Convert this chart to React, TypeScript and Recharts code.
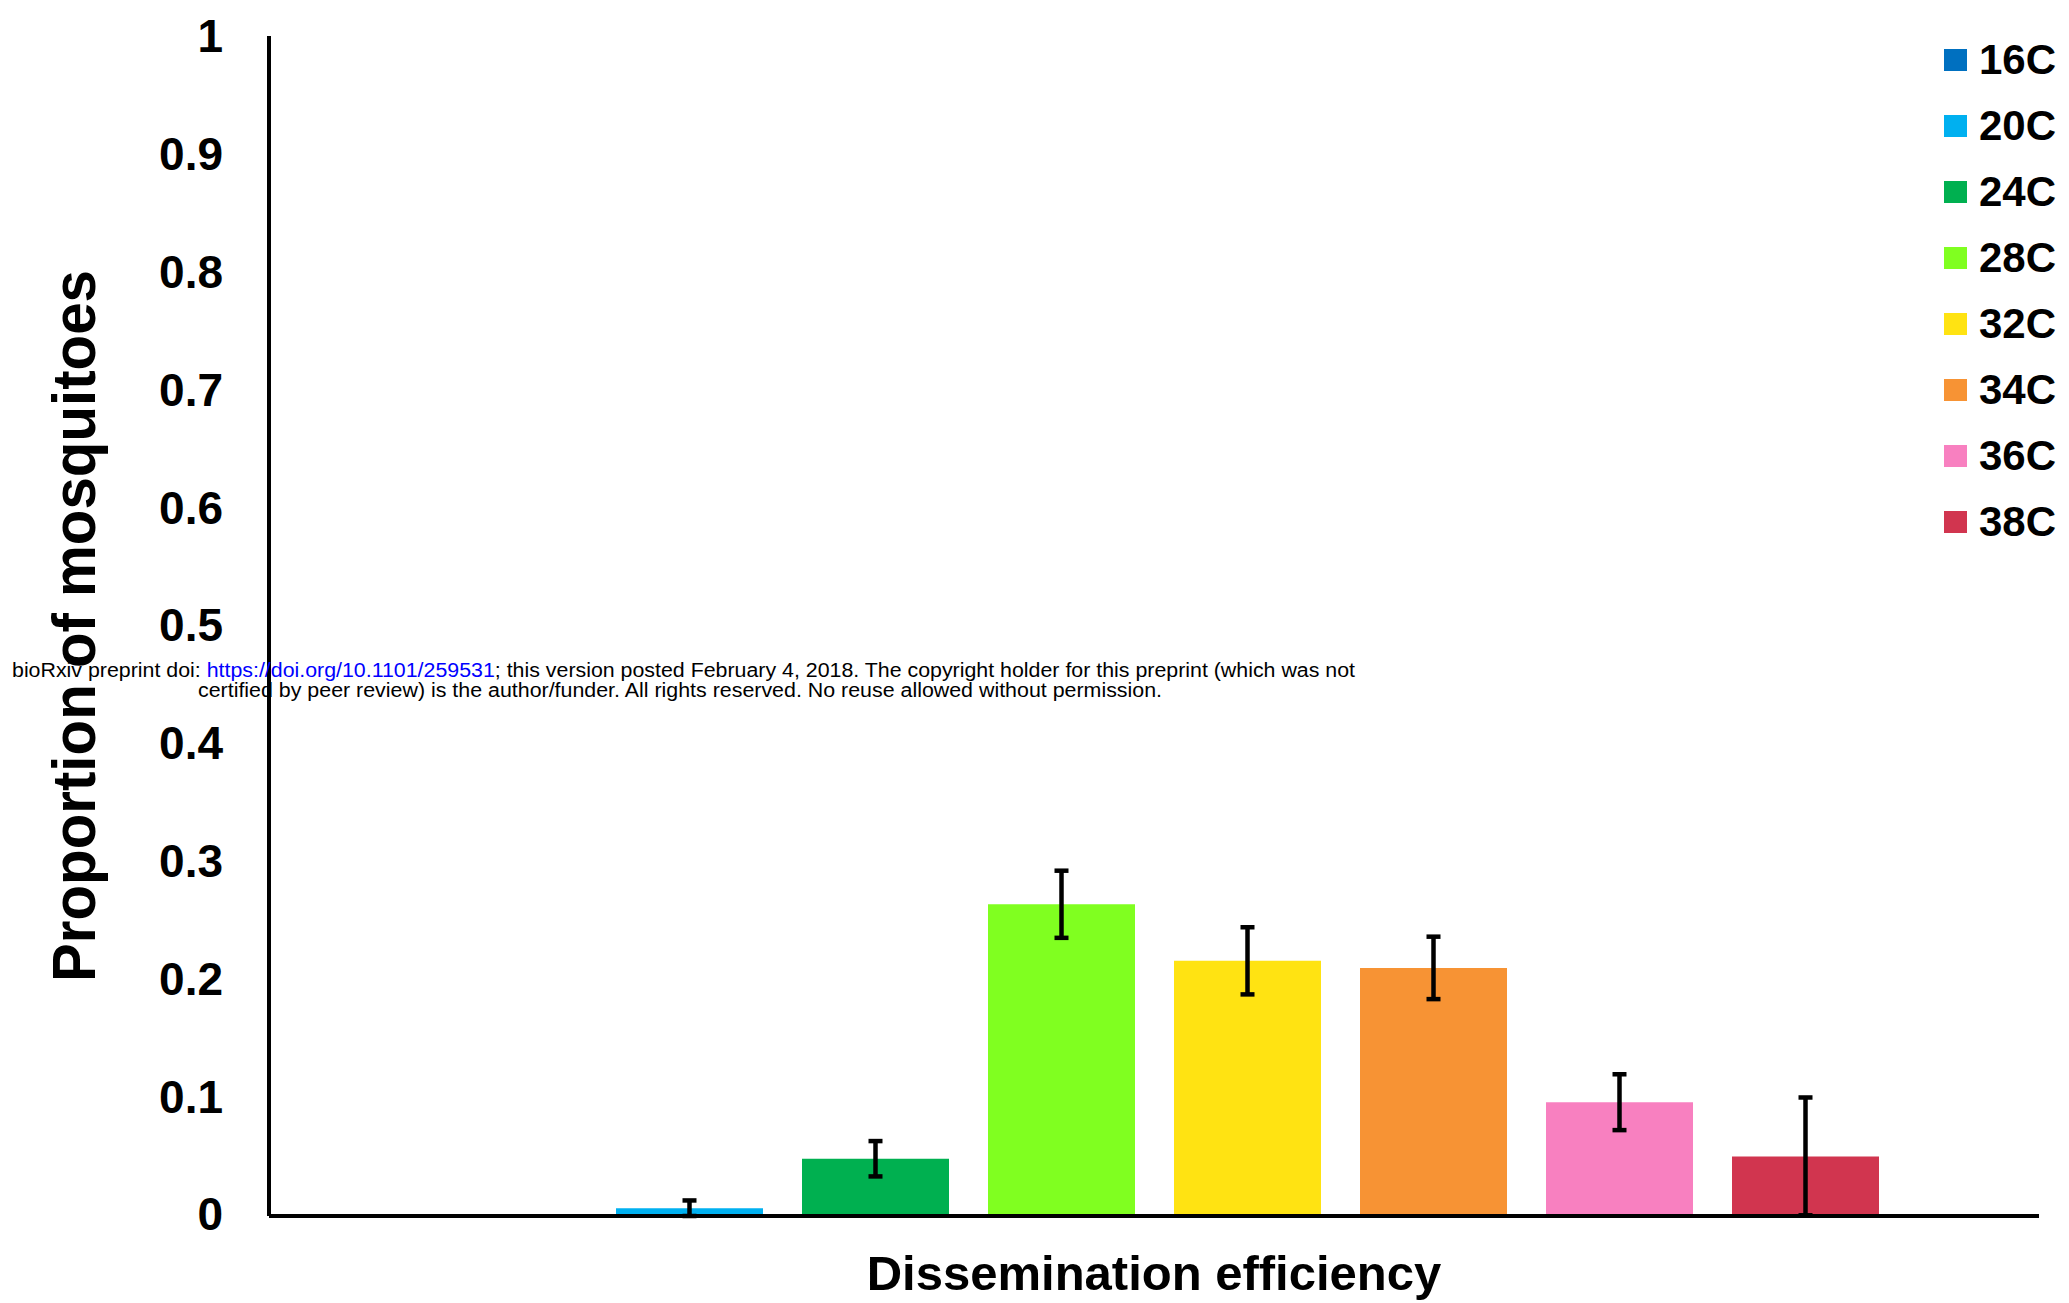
import React from 'react';
import { BarChart, Bar, XAxis, YAxis, ErrorBar, Legend } from 'recharts';

const FONT = '"Liberation Sans", Arial, Helvetica, sans-serif';

const temps = ['16C', '20C', '24C', '28C', '32C', '34C', '36C', '38C'];
const means = [0, 0.005, 0.047, 0.263, 0.215, 0.209, 0.095, 0.049];
const errors = [0, 0.0066, 0.015, 0.0285, 0.0285, 0.0265, 0.0237, 0.05];
const colors = ['#0070c0', '#00b0f0', '#00b050', '#80ff20', '#ffe312', '#f79334', '#f880c0', '#d1354f'];
const yTicks = [0, 0.1, 0.2, 0.3, 0.4, 0.5, 0.6, 0.7, 0.8, 0.9, 1];
const category = 'Dissemination efficiency';

// one category, one bar per temperature
const row: Record<string, string | number> = { name: category };
temps.forEach((t, i) => {
  row[`m${t}`] = means[i];
  row[`e${t}`] = errors[i];
});
const data = [row];

function LegendBox(props: any) {
  const payload = props.payload || [];
  return (
    <div style={{ fontFamily: FONT }}>
      {payload.map((p: any) => (
        <div key={p.value} style={{ display: 'flex', alignItems: 'center', height: 66 }}>
          <span style={{ display: 'inline-block', width: 23, height: 22, background: p.color, marginRight: 12 }} />
          <span style={{ fontSize: 42, fontWeight: 'bold', color: '#000', lineHeight: 1 }}>{p.value}</span>
        </div>
      ))}
    </div>
  );
}

function YTitle(props: any) {
  const vb = props.viewBox || {};
  const cy = vb.height ? vb.y + vb.height / 2 : 627;
  return (
    <text
      x={95}
      y={cy}
      transform={`rotate(-90, 95, ${cy})`}
      textAnchor="middle"
      fontFamily={FONT}
      fontWeight="bold"
      fontSize={61}
      fill="#000"
      textLength={712}
      lengthAdjust="spacingAndGlyphs"
    >
      Proportion of mosquitoes
    </text>
  );
}

function XTitle(props: any) {
  const vb = props.viewBox || {};
  const cx = vb.width ? vb.x + vb.width / 2 : 1154;
  return (
    <text x={cx} y={1290} textAnchor="middle" fontFamily={FONT} fontWeight="bold" fontSize={49} fill="#000">
      {category}
    </text>
  );
}

export default function App() {
  return (
    <div style={{ position: 'absolute', left: 0, top: 0, width: 2069, height: 1303, background: '#fff' }}>
      <BarChart
        width={2069}
        height={1303}
        data={data}
        margin={{ top: 36, right: 30, bottom: 0, left: 0 }}
        barSize={147}
        barGap={39}
      >
        <XAxis
          dataKey="name"
          tick={false}
          tickLine={false}
          height={87}
          axisLine={{ stroke: '#000', strokeWidth: 4 }}
          label={XTitle}
        />
        <YAxis
          type="number"
          domain={[0, 1]}
          ticks={yTicks}
          interval={0}
          width={269}
          tickLine={false}
          tickSize={0}
          tickMargin={46}
          axisLine={{ stroke: '#000', strokeWidth: 4 }}
          tick={{ fontSize: 46, fontWeight: 'bold', fill: '#000', fontFamily: FONT }}
          label={YTitle}
        />
        <Legend
          layout="vertical"
          align="center"
          verticalAlign="middle"
          content={LegendBox}
          wrapperStyle={{ left: 1944, top: 27, width: 125, height: 528 }}
        />
        {temps.map((t, i) => (
          <Bar key={t} dataKey={`m${t}`} name={t} fill={colors[i]} barSize={147} isAnimationActive={false}>
            {errors[i] > 0 && (
              <ErrorBar dataKey={`e${t}`} direction="y" width={7} strokeWidth={4.5} stroke="#000" isAnimationActive={false} />
            )}
          </Bar>
        ))}
      </BarChart>
      <svg
        width={2069}
        height={1303}
        style={{ position: 'absolute', left: 0, top: 0, pointerEvents: 'none' }}
      >
        <text x={12} y={677} fontFamily={FONT} fontSize={20} fill="#000" textLength={1343} lengthAdjust="spacingAndGlyphs">
          bioRxiv preprint doi: <tspan fill="#0000ff">https://doi.org/10.1101/259531</tspan>; this version posted February 4, 2018. The copyright holder for this preprint (which was not
        </text>
        <text x={198} y={697} fontFamily={FONT} fontSize={20} fill="#000" textLength={964} lengthAdjust="spacingAndGlyphs">
          certified by peer review) is the author/funder. All rights reserved. No reuse allowed without permission.
        </text>
      </svg>
    </div>
  );
}
